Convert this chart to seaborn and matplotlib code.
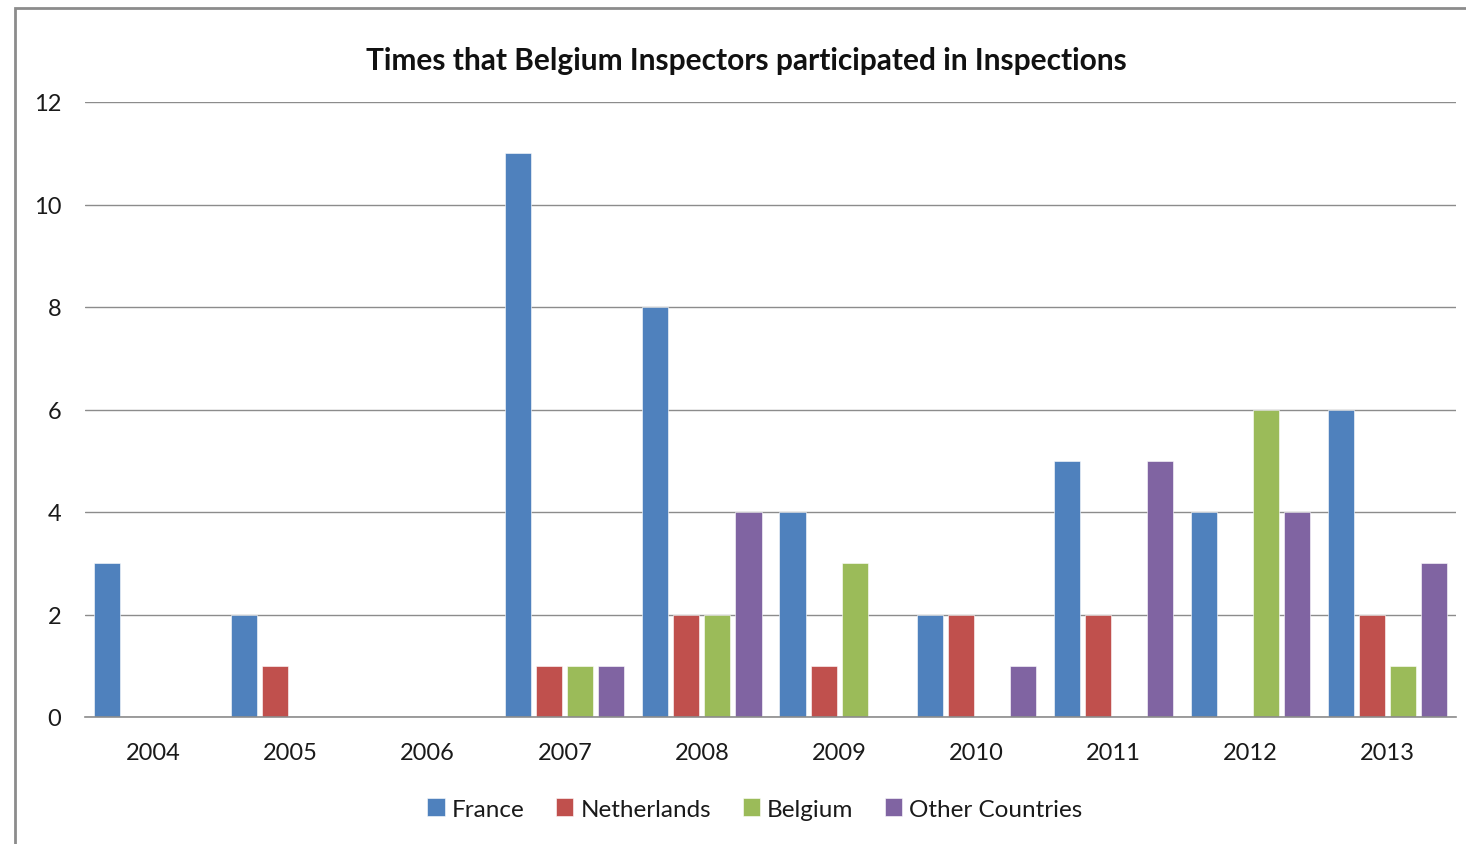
import matplotlib
matplotlib.use("Agg")
import matplotlib.pyplot as plt
from matplotlib.patches import Rectangle
import pandas as pd
import seaborn as sb

years = ["2004", "2005", "2006", "2007", "2008", "2009", "2010", "2011", "2012", "2013"]
france = [3, 2, 0, 11, 8, 4, 2, 5, 4, 6]
netherlands = [0, 1, 0, 1, 2, 1, 2, 2, 0, 2]
belgium = [0, 0, 0, 1, 2, 3, 0, 0, 6, 1]
other = [0, 0, 0, 1, 4, 0, 1, 5, 4, 3]
series = ["France", "Netherlands", "Belgium", "Other Countries"]
culori = ["#4F81BD", "#C0504D", "#9BBB59", "#8064A2"]

t = pd.DataFrame({"an": years, "France": france, "Netherlands": netherlands,
                  "Belgium": belgium, "Other Countries": other})
t = t.melt(id_vars="an", var_name="tara", value_name="nr")

sb.set_style("white")
plt.rcParams["font.family"] = ["Lato", "DejaVu Sans"]

f = plt.figure(figsize=(14.66, 8.45), dpi=100)
f.patches.append(Rectangle((15 / 1466, -0.1), 1.2, 1 - 9 / 845 + 0.1, transform=f.transFigure,
                           fill=False, edgecolor="#8c8c8c", linewidth=2, zorder=0))
ax = f.add_axes([85 / 1466, 1 - 718 / 845, (1456 - 85) / 1466, (718 - 103) / 845])

sb.barplot(data=t, x="an", y="nr", hue="tara", hue_order=series, palette=culori,
           width=0.905, gap=0.16, saturation=1, ax=ax, edgecolor="white", linewidth=0.4)

ax.set_ylim(0, 12)
ax.set_yticks(range(0, 13, 2))
ax.set_xlim(-0.5, 9.5)
ax.yaxis.grid(True, color="#8c8c8c", linewidth=1)
ax.set_axisbelow(True)
for s in ["top", "right", "left"]:
    ax.spines[s].set_visible(False)
ax.spines["bottom"].set_color("#8c8c8c")
ax.spines["bottom"].set_linewidth(1.2)
ax.tick_params(axis="both", length=0, labelsize=17, colors="#1a1a1a")
ax.tick_params(axis="x", pad=18)
ax.tick_params(axis="y", pad=17)
ax.set_xlabel("")
ax.set_ylabel("")

f.text(746 / 1466, 1 - 61 / 845, "Times that Belgium Inspectors participated in Inspections",
       ha="center", va="center", fontsize=21.5, fontweight="bold", color="#111111")

ax.legend(loc="center", bbox_to_anchor=(755 / 1466, 1 - 810 / 845), bbox_transform=f.transFigure,
          ncol=4, frameon=False, fontsize=17.5, handlelength=0.7, handleheight=0.7,
          handletextpad=0.3, columnspacing=1.3, labelcolor="#1a1a1a")

f.savefig("out.png", dpi=100)
